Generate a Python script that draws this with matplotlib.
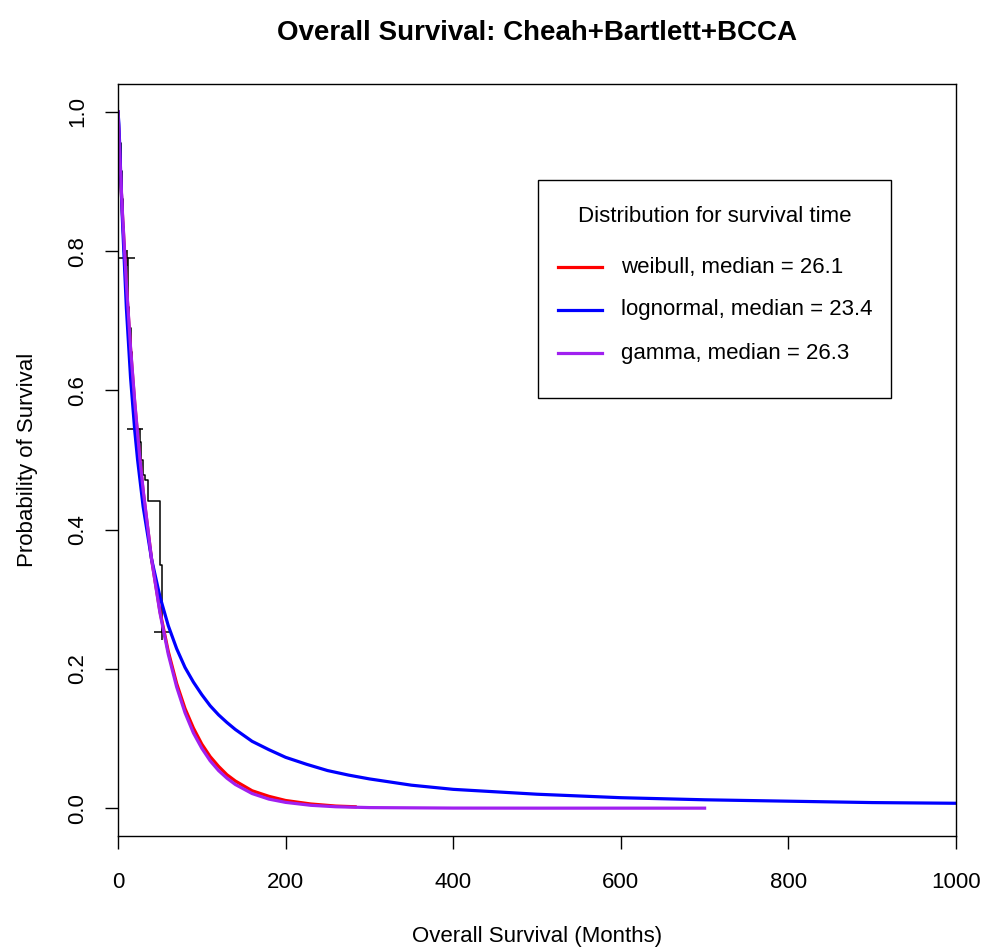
import matplotlib
matplotlib.use("Agg")
import matplotlib.pyplot as plt
from matplotlib.lines import Line2D
from matplotlib.patches import Rectangle

plt.rcParams['font.family'] = ['Liberation Sans', 'DejaVu Sans']

# Kaplan-Meier estimate
km_time = [0, 1.5, 3, 4.5, 6, 7.5, 9, 12, 13.5, 15, 16.5, 18, 19.5, 20, 26, 28,
           30, 32, 36, 50, 52, 53]
km_surv = [1.0, 0.955, 0.915, 0.875, 0.835, 0.80, 0.79, 0.72, 0.69, 0.655, 0.625,
           0.60, 0.575, 0.545, 0.526, 0.50, 0.478, 0.471, 0.441, 0.349, 0.253, 0.253]
cens_time = [10.5, 20, 52]
cens_surv = [0.79, 0.545, 0.253]

# fitted parametric curves
weib_time = [0, 2, 5, 10, 15, 20, 26, 30, 40, 50, 60, 70, 80, 90, 100, 110, 120,
             130, 140, 160, 180, 200, 230, 260, 283]
weib_surv = [1.0, 0.937, 0.859, 0.751, 0.659, 0.581, 0.501, 0.455, 0.358, 0.283,
             0.225, 0.179, 0.143, 0.115, 0.092, 0.074, 0.060, 0.048, 0.039, 0.025,
             0.017, 0.011, 0.006, 0.003, 0.002]

lnorm_time = [0, 1, 2, 5, 10, 15, 20, 23.4, 30, 40, 50, 60, 70, 80, 90, 100, 110,
              120, 130, 140, 160, 180, 200, 225, 250, 275, 300, 350, 400, 500,
              600, 700, 800, 900, 1000]
lnorm_surv = [1.0, 0.984, 0.952, 0.852, 0.718, 0.618, 0.542, 0.5, 0.433, 0.358,
              0.304, 0.262, 0.229, 0.202, 0.181, 0.163, 0.147, 0.134, 0.123, 0.113,
              0.096, 0.084, 0.073, 0.063, 0.054, 0.0475, 0.042, 0.033, 0.027, 0.020,
              0.015, 0.012, 0.010, 0.008, 0.007]

gamma_time = [0, 2, 5, 10, 15, 20, 26, 30, 40, 50, 60, 70, 80, 90, 100, 110, 120,
              130, 140, 160, 180, 200, 230, 260, 300, 400, 500, 700]
gamma_surv = [1.0, 0.94, 0.862, 0.753, 0.661, 0.583, 0.503, 0.457, 0.358, 0.281,
              0.221, 0.174, 0.137, 0.108, 0.086, 0.068, 0.054, 0.043, 0.034, 0.021,
              0.013, 0.0083, 0.0041, 0.002, 0.0008, 0.0001, 0.0, 0.0]

legend_title = "Distribution for survival time"
legend_labels = ["weibull, median = 26.1", "lognormal, median = 23.4",
                 "gamma, median = 26.3"]
curve_colors = ["#FF0000", "#0000FF", "#A020F0"]

W, H = 983, 947
fig = plt.figure(figsize=(W / 100, H / 100), dpi=100)
ax = fig.add_axes([118 / W, (H - 836) / H, (956 - 118) / W, (836 - 84) / H])

# KM step curve + censor marks
ax.plot(km_time, km_surv, drawstyle='steps-post', color='black', lw=1.1)
ax.plot(cens_time, cens_surv, '+', color='black', ms=12, mew=1.1)

ax.plot(weib_time, weib_surv, color=curve_colors[0], lw=2.3)
ax.plot(lnorm_time, lnorm_surv, color=curve_colors[1], lw=2.3)
ax.plot(gamma_time, gamma_surv, color=curve_colors[2], lw=2.3)

ax.set_xlim(0, 1000)
ax.set_ylim(-0.04, 1.04)
ax.set_xticks([0, 200, 400, 600, 800, 1000])
ax.set_yticks([0.0, 0.2, 0.4, 0.6, 0.8, 1.0])
ax.set_yticklabels(["0.0", "0.2", "0.4", "0.6", "0.8", "1.0"], rotation=90, va='center')
ax.tick_params(direction='out', length=9.4, width=1, colors='black', labelsize=16)
ax.tick_params(axis='x', pad=16.5)
ax.tick_params(axis='y', pad=12)
for s in ax.spines.values():
    s.set_linewidth(1)
    s.set_color('black')

ax.set_xlabel("Overall Survival (Months)", fontsize=16, labelpad=24)
ax.set_ylabel("Probability of Survival", fontsize=16, labelpad=21)
ax.set_title("Overall Survival: Cheah+Bartlett+BCCA", fontsize=20,
             fontweight='bold', pad=32)

# legend box (R-style, laid out by hand in figure pixels)
def fx(x):
    return x / W

def fy(y):
    return 1 - y / H

fig.add_artist(Rectangle((fx(538), fy(398)), (891 - 538) / W, (398 - 180) / H,
                         transform=fig.transFigure, fc='white', ec='black', lw=1))
fig.text(fx(714.5), fy(217), legend_title, fontsize=16, ha='center', va='center')
for i, (lab, c) in enumerate(zip(legend_labels, curve_colors)):
    yy = 267 + i * 43
    fig.add_artist(Line2D([fx(558), fx(602)], [fy(yy), fy(yy)], color=c, lw=2.3,
                          transform=fig.transFigure))
    fig.text(fx(621), fy(yy), lab, fontsize=16, ha='left', va='center')

fig.savefig("out.png", dpi=100)
